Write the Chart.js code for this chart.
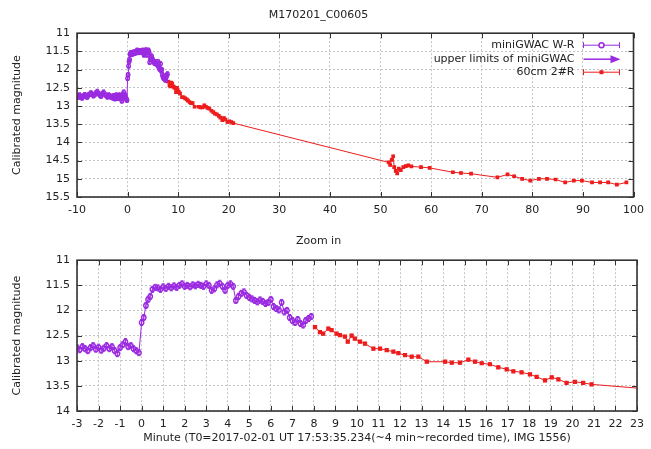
<!DOCTYPE html>
<html>
<head>
<meta charset="utf-8">
<title>M170201_C00605</title>
<script src="https://cdn.jsdelivr.net/npm/chart.js"></script>
<style>
  body { margin: 0; background: #fff; }
  canvas { position: absolute; left: 0; }
</style>
</head>
<body>
<canvas id="full" style="top:0" width="651" height="225"></canvas>
<canvas id="zoom" style="top:225px" width="651" height="224"></canvas>
<script>
// miniGWAC W-R photometry: minutes from T0, calibrated magnitude
const gwacMin = [
  -10, -9.75, -9.5, -9.25, -9, -8.75, -8.5, -8.25, -8, -7.75, -7.5, -7.25, -7, -6.75,
  -6.5, -6.25, -6, -5.75, -5.5, -5.25, -5, -4.75, -4.5, -4.25, -4, -3.75, -3.5, -3.25,
  -3, -2.875, -2.75, -2.625, -2.5, -2.375, -2.25, -2.125, -2, -1.875, -1.75, -1.625,
  -1.5, -1.375, -1.25, -1.125, -1, -0.875, -0.75, -0.625, -0.5, -0.375, -0.25, -0.125,
  0, 0.1, 0.2, 0.3, 0.4, 0.5, 0.625,
  0.75, 0.875, 1, 1.125, 1.25, 1.375, 1.5, 1.625, 1.75, 1.875, 2, 2.125, 2.25, 2.375,
  2.5, 2.625, 2.75, 2.875, 3, 3.125, 3.25, 3.375, 3.5, 3.625, 3.75, 3.875, 4, 4.125, 4.25,
  4.375, 4.5, 4.625, 4.75, 4.875, 5, 5.125, 5.25, 5.375, 5.5, 5.625, 5.75, 5.875, 6,
  6.125, 6.25, 6.375, 6.5, 6.625, 6.75, 6.875, 7, 7.125, 7.25, 7.375, 7.5, 7.625, 7.75, 7.875
];
const gwacMag = [
  12.72, 12.76, 12.70, 12.74, 12.78, 12.73, 12.69, 12.71, 12.76, 12.70, 12.68, 12.64, 12.68, 12.72,
  12.69, 12.64, 12.60, 12.66, 12.70, 12.73, 12.66, 12.62, 12.68, 12.71, 12.75, 12.70, 12.72, 12.76,
  12.74, 12.78, 12.72, 12.76, 12.80, 12.74, 12.70, 12.77, 12.73, 12.79, 12.75, 12.70,
  12.76, 12.72, 12.80, 12.86, 12.74, 12.68, 12.62, 12.72, 12.70, 12.76, 12.80, 12.84,
  12.24, 12.14, 11.90, 11.78, 11.72, 11.58, 11.54,
  11.55, 11.58, 11.53, 11.56, 11.52, 11.55, 11.51, 11.54, 11.50, 11.47, 11.52, 11.50, 11.53, 11.49,
  11.51, 11.48, 11.50, 11.52, 11.47, 11.50, 11.60, 11.57, 11.49, 11.46, 11.52, 11.60, 11.50, 11.47, 11.52,
  11.80, 11.72, 11.66, 11.63, 11.70, 11.74, 11.77, 11.80, 11.83, 11.79, 11.82, 11.86, 11.84, 11.78,
  11.92, 11.96, 11.99, 11.84, 12.03, 12.00, 12.14, 12.20, 12.24, 12.18, 12.26, 12.29, 12.20, 12.16, 12.12
];
// 60cm telescope R band photometry
const r60Min = [
  8.05, 8.28, 8.43, 8.67, 8.82, 9.05, 9.21, 9.44, 9.57, 9.75, 9.9, 10.14, 10.37, 10.76,
  11.07, 11.38, 11.69, 11.92, 12.23, 12.54, 12.85, 13.24, 14.09, 14.4, 14.78, 15.17,
  15.48, 15.79, 16.17, 16.56, 16.95, 17.26, 17.64, 18.03, 18.34, 18.73, 19.04, 19.35,
  19.73, 20.12, 20.5, 20.89,
  51.6, 51.9, 52.2, 52.5, 52.7, 53.0, 53.3, 53.6, 54.0, 54.5, 55.0, 55.5, 56.1, 58.0,
  59.7, 64.3, 65.9, 67.9, 73.1, 75.1, 76.4, 78.0, 79.6, 81.3, 82.9, 84.6, 86.5, 88.2,
  89.8, 91.8, 93.4, 95.0, 96.7, 98.6
];
const r60Mag = [
  12.33, 12.43, 12.46, 12.36, 12.39, 12.46, 12.49, 12.52, 12.62, 12.50, 12.56, 12.62, 12.66, 12.76,
  12.76, 12.79, 12.82, 12.85, 12.89, 12.92, 12.92, 13.02, 13.02, 13.04, 13.04, 12.98,
  13.02, 13.05, 13.07, 13.13, 13.17, 13.21, 13.23, 13.27, 13.32, 13.39, 13.33, 13.37,
  13.44, 13.42, 13.44, 13.47,
  14.55, 14.62, 14.48, 14.38, 14.68, 14.78, 14.85, 14.72, 14.76, 14.68, 14.65, 14.63, 14.66, 14.68,
  14.70, 14.82, 14.84, 14.86, 14.96, 14.88, 14.93, 15.00, 15.05, 15.00, 15.00, 15.02, 15.10, 15.05,
  15.05, 15.10, 15.10, 15.10, 15.16, 15.10
];
const gwacErr = 0.06;
const r60Err = 0.025;

const legendLabels = ['miniGWAC W-R', 'upper limits of miniGWAC', '60cm 2#R'];
const xLabel = 'Minute (T0=2017-02-01 UT 17:53:35.234(~4 min~recorded time), IMG 1556)';
const yLabel = 'Calibrated magnitude';

const PURPLE = '#9a2be0';
const RED = '#ee1c1c';

Chart.defaults.font.family = 'DejaVu Sans';
Chart.defaults.font.size = 11;
Chart.defaults.color = '#222';

function points(xs, ys) {
  return xs.map((x, i) => ({ x: x, y: ys[i] }));
}

// vertical error bars with small caps, drawn under the markers
const errorBars = {
  id: 'errorBars',
  beforeDatasetsDraw(chart) {
    const { ctx, chartArea: a, scales: { x, y } } = chart;
    ctx.save();
    ctx.beginPath();
    ctx.rect(a.left, a.top, a.width, a.height);
    ctx.clip();
    chart.data.datasets.forEach(ds => {
      if (!ds.errBar) return;
      ctx.strokeStyle = ds.borderColor;
      ctx.lineWidth = 1;
      ctx.beginPath();
      ds.data.forEach(p => {
        const px = x.getPixelForValue(p.x);
        const y1 = y.getPixelForValue(p.y - ds.errBar);
        const y2 = y.getPixelForValue(p.y + ds.errBar);
        ctx.moveTo(px, y1); ctx.lineTo(px, y2);
        ctx.moveTo(px - 1.5, y1); ctx.lineTo(px + 1.5, y1);
        ctx.moveTo(px - 1.5, y2); ctx.lineTo(px + 1.5, y2);
      });
      ctx.stroke();
    });
    ctx.restore();
  }
};

// gnuplot style border with inward tics on every side
const frame = {
  id: 'frame',
  afterDatasetsDraw(chart) {
    const { ctx, chartArea: a, scales: { x, y } } = chart;
    ctx.save();
    ctx.strokeStyle = '#333';
    ctx.lineWidth = 1;
    ctx.beginPath();
    x.ticks.forEach(t => {
      const px = Math.round(x.getPixelForValue(t.value)) + 0.5;
      ctx.moveTo(px, a.bottom); ctx.lineTo(px, a.bottom - 5);
      ctx.moveTo(px, a.top); ctx.lineTo(px, a.top + 5);
    });
    y.ticks.forEach(t => {
      const py = Math.round(y.getPixelForValue(t.value)) + 0.5;
      ctx.moveTo(a.left, py); ctx.lineTo(a.left + 5, py);
      ctx.moveTo(a.right, py); ctx.lineTo(a.right - 5, py);
    });
    ctx.stroke();
    ctx.lineWidth = 1.6;
    ctx.strokeRect(a.left, a.top, a.width, a.height);
    ctx.restore();
  }
};

// key in the top right corner: text right aligned, sample on the right
const key = {
  id: 'key',
  afterDraw(chart) {
    if (!chart.options.plugins.key.show) return;
    const { ctx, chartArea: a } = chart;
    const textX = a.right - 59, x0 = a.right - 50, x1 = a.right - 14;
    const rows = [a.top + 12, a.top + 26, a.top + 39];
    ctx.save();
    ctx.font = '11px "DejaVu Sans"';
    ctx.fillStyle = '#222';
    ctx.textAlign = 'right';
    ctx.textBaseline = 'middle';
    legendLabels.forEach((t, i) => ctx.fillText(t, textX, rows[i]));
    ctx.lineWidth = 1;
    [[rows[0], PURPLE], [rows[2], RED]].forEach(([ry, c], i) => {
      ctx.strokeStyle = c;
      ctx.beginPath();
      ctx.moveTo(x0, ry); ctx.lineTo(x1, ry);
      ctx.moveTo(x0, ry - 3); ctx.lineTo(x0, ry + 3);
      ctx.moveTo(x1, ry - 3); ctx.lineTo(x1, ry + 3);
      ctx.stroke();
      const cx = (x0 + x1) / 2;
      if (i === 0) {
        ctx.fillStyle = '#fff';
        ctx.lineWidth = 1.5;
        ctx.beginPath(); ctx.arc(cx, ry, 2.5, 0, Math.PI * 2); ctx.fill(); ctx.stroke();
        ctx.lineWidth = 1;
      } else {
        ctx.fillStyle = c;
        ctx.fillRect(cx - 2, ry - 2, 4, 4);
      }
    });
    // upper limit arrow
    ctx.strokeStyle = PURPLE;
    ctx.fillStyle = PURPLE;
    ctx.lineWidth = 1.5;
    ctx.beginPath(); ctx.moveTo(x0, rows[1]); ctx.lineTo(x1 - 6, rows[1]); ctx.stroke();
    ctx.beginPath();
    ctx.moveTo(x1 + 1, rows[1]); ctx.lineTo(x1 - 9, rows[1] - 4); ctx.lineTo(x1 - 9, rows[1] + 4);
    ctx.closePath(); ctx.fill();
    ctx.restore();
  }
};

function makePanel(id, cfg) {
  const datasets = [
    {
      label: legendLabels[0],
      data: points(gwacMin, gwacMag),
      errBar: gwacErr,
      showLine: true,
      borderColor: PURPLE,
      backgroundColor: 'rgba(0,0,0,0)',
      borderWidth: 1,
      pointRadius: cfg.gwacRadius,
      pointBorderWidth: 1.4,
      pointStyle: 'circle'
    },
    {
      label: legendLabels[2],
      data: points(r60Min, r60Mag),
      errBar: r60Err,
      showLine: true,
      borderColor: RED,
      backgroundColor: RED,
      borderWidth: 1,
      pointRadius: cfg.r60Radius,
      pointBorderWidth: 0,
      pointStyle: 'rect'
    }
  ];
  return new Chart(document.getElementById(id), {
    type: 'scatter',
    data: { datasets: datasets },
    options: {
      responsive: false,
      animation: false,
      layout: { padding: { left: 0, right: 14, top: 0, bottom: 0 } },
      plugins: {
        legend: { display: false },
        tooltip: { enabled: false },
        key: { show: cfg.key },
        title: {
          display: true,
          text: cfg.title,
          font: { size: 11, weight: 'normal' },
          color: '#222',
          padding: cfg.titlePad
        }
      },
      scales: {
        x: {
          type: 'linear',
          min: cfg.xMin,
          max: cfg.xMax,
          ticks: { stepSize: cfg.xStep, padding: 7, maxRotation: 0, autoSkip: false, callback: v => String(v) },
          grid: { color: '#c4c4c4', drawTicks: false, lineWidth: 1 },
          border: { display: false, dash: [2, 2] },
          title: {
            display: !!cfg.xTitle,
            text: cfg.xTitle || '',
            color: '#222',
            padding: { top: 0, bottom: 4 }
          },
          afterFit(s) { s.height = cfg.xHeight; }
        },
        y: {
          type: 'linear',
          reverse: true,
          min: 11,
          max: cfg.yMax,
          ticks: { stepSize: 0.5, padding: 7, callback: v => String(v) },
          grid: { color: '#c4c4c4', drawTicks: false, lineWidth: 1 },
          border: { display: false, dash: [2, 2] },
          title: {
            display: true,
            text: yLabel,
            color: '#222',
            padding: { top: 11, bottom: 0 }
          },
          afterFit(s) { s.width = 77; }
        }
      }
    },
    plugins: [errorBars, frame, key]
  });
}

makePanel('full', {
  title: 'M170201_C00605',
  titlePad: { top: 9, bottom: 11 },
  xMin: -10, xMax: 100, xStep: 10, yMax: 15.5,
  xHeight: 28,
  gwacRadius: 1.8, r60Radius: 2.6,
  key: true
});

makePanel('zoom', {
  title: 'Zoom in',
  titlePad: { top: 10, bottom: 12 },
  xMin: -3, xMax: 23, xStep: 1, yMax: 14,
  xHeight: 38,
  xTitle: xLabel,
  gwacRadius: 2.2, r60Radius: 3,
  key: false
});
</script>
</body>
</html>
